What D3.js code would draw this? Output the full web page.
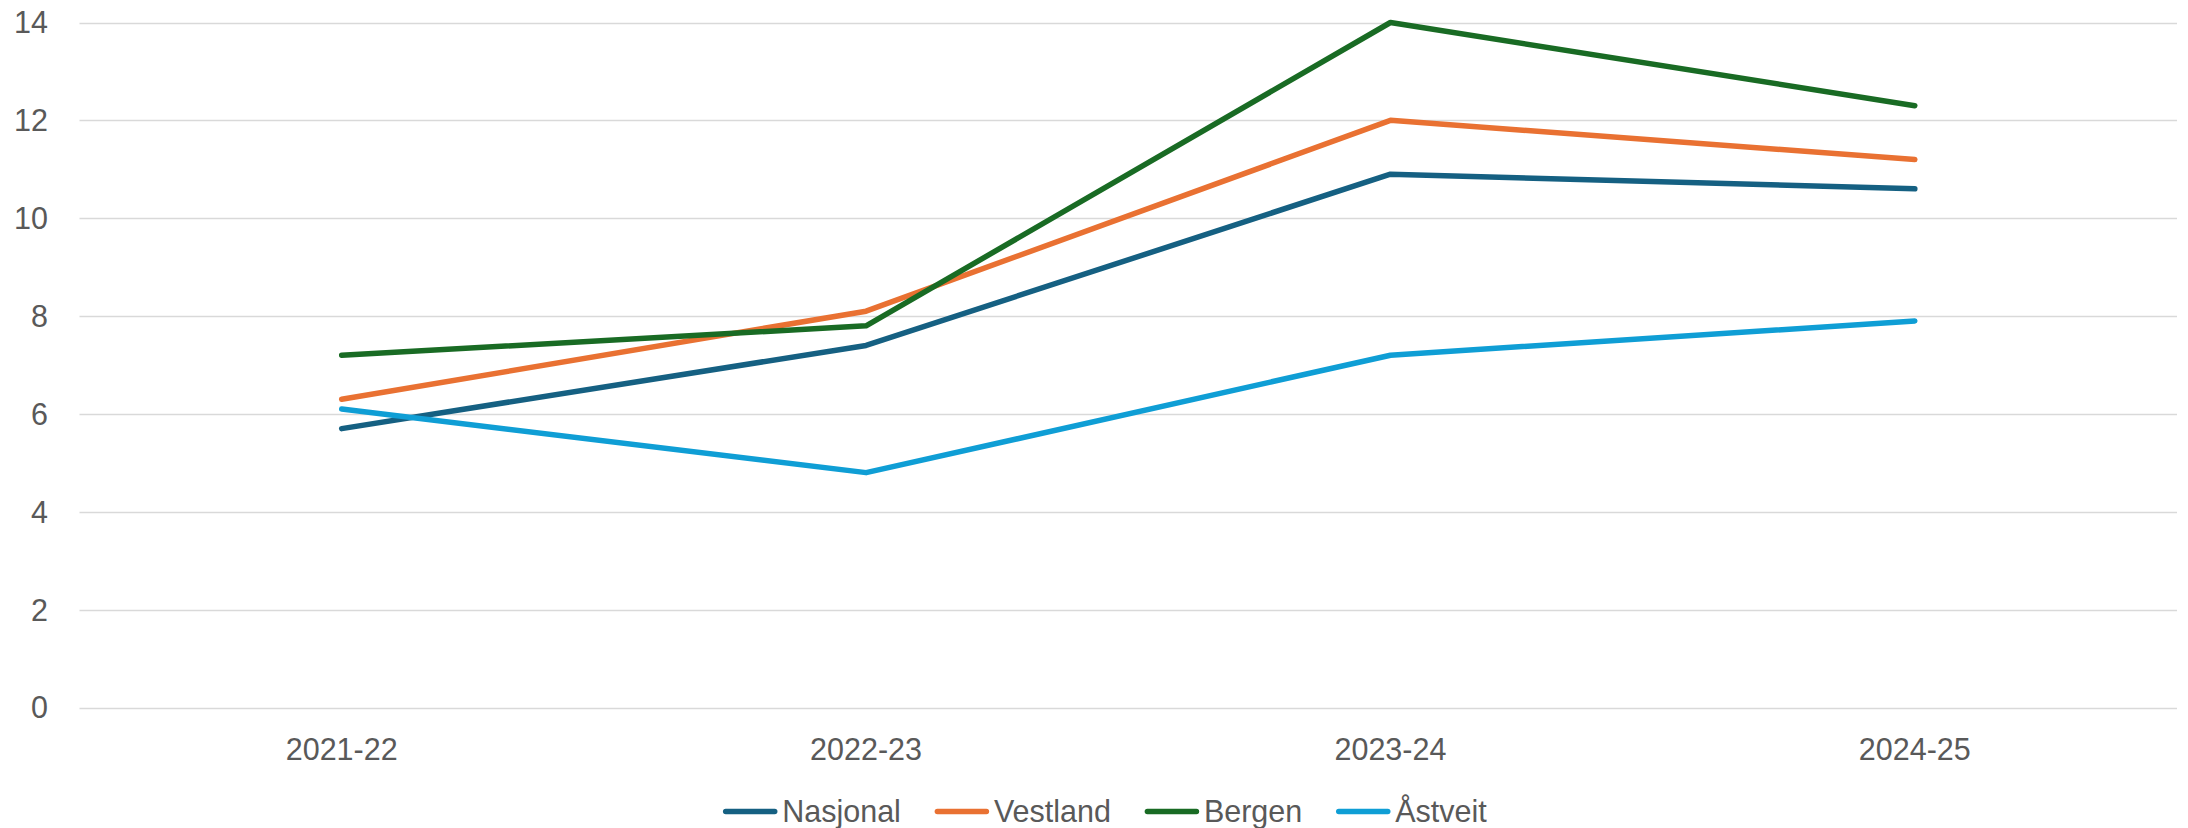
<!DOCTYPE html>
<html>
<head>
<meta charset="utf-8">
<script src="https://cdn.jsdelivr.net/npm/d3@7"></script>
<style>
  html, body { margin: 0; padding: 0; background: #ffffff; }
  svg { display: block; }
  text { font-family: "Liberation Sans", Arial, sans-serif; fill: #595959; }
</style>
</head>
<body>
<svg id="chart" width="2188" height="828"></svg>
<script>
const categories = ["2021-22", "2022-23", "2023-24", "2024-25"];
const seriesNames = ["Nasjonal", "Vestland", "Bergen", "Åstveit"];
const nasjonal = [5.7, 7.4, 10.9, 10.6];
const vestland = [6.3, 8.1, 12.0, 11.2];
const bergen   = [7.2, 7.8, 14.0, 12.3];
const astveit  = [6.1, 4.8, 7.2, 7.9];
const seriesColors = ["#156082", "#E97132", "#196B24", "#0F9ED5"];
const yTicks = [0, 2, 4, 6, 8, 10, 12, 14];

const series = [nasjonal, vestland, bergen, astveit].map((values, i) => ({
  name: seriesNames[i], color: seriesColors[i], values
}));

const W = 2188, H = 828;
const plot = { left: 79.5, right: 2177, top: 22.5, bottom: 707.5 };
const svg = d3.select("#chart");
const FS = "30.5px";

const x = d3.scaleBand().domain(categories).range([plot.left, plot.right]).padding(0);
const y = d3.scaleLinear().domain([0, 14]).range([plot.bottom, plot.top]);

// gridlines
svg.append("g")
  .selectAll("line").data(yTicks).join("line")
  .attr("x1", plot.left).attr("x2", plot.right)
  .attr("y1", d => Math.round(y(d)) + 0.5).attr("y2", d => Math.round(y(d)) + 0.5)
  .attr("stroke", "#d9d9d9").attr("stroke-width", 1.6);

// y axis labels
const yAxis = d3.axisLeft(y).tickValues(yTicks).tickSize(0).tickPadding(0);
const gy = svg.append("g").attr("transform", `translate(48,0)`).call(yAxis);
gy.select(".domain").remove();
gy.selectAll("text")
  .attr("font-size", FS)
  .attr("font-family", "Liberation Sans, Arial, sans-serif")
  .attr("fill", "#595959")
  .attr("dy", "0.34em");

// x axis labels
const xAxis = d3.axisBottom(x).tickSize(0).tickPadding(0);
const gx = svg.append("g").attr("transform", `translate(0,${plot.bottom})`).call(xAxis);
gx.select(".domain").remove();
gx.selectAll("text")
  .attr("font-size", FS)
  .attr("font-family", "Liberation Sans, Arial, sans-serif")
  .attr("fill", "#595959")
  .attr("dy", null)
  .attr("y", 52);

// lines
const line = d3.line()
  .x((d, i) => x(categories[i]) + x.bandwidth() / 2)
  .y(d => y(d));

svg.append("g").selectAll("path").data(series).join("path")
  .attr("d", d => line(d.values))
  .attr("fill", "none")
  .attr("stroke", d => d.color)
  .attr("stroke-width", 5.5)
  .attr("stroke-linecap", "round")
  .attr("stroke-linejoin", "round");

// legend
const legend = svg.append("g");
const items = legend.selectAll("g").data(series).join("g");
items.append("line")
  .attr("x1", 2.5).attr("x2", 51.5).attr("y1", 0).attr("y2", 0)
  .attr("stroke", d => d.color).attr("stroke-width", 5.5)
  .attr("stroke-linecap", "round");
items.append("text")
  .attr("x", 59).attr("y", 10)
  .attr("font-size", FS)
  .text(d => d.name);

let cx = 0;
const offsets = [];
items.each(function(d) {
  const tw = d3.select(this).select("text").node().getComputedTextLength();
  offsets.push(cx);
  cx += 59 + tw + 34;
});
const total = cx - 34;
const startX = 1105 - total / 2;
items.attr("transform", (d, i) => `translate(${startX + offsets[i]},811.5)`);
</script>
</body>
</html>
